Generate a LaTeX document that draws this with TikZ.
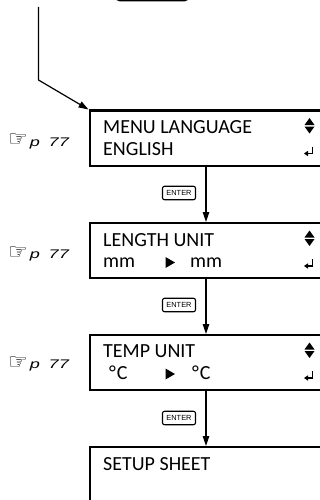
\documentclass[tikz,border=0pt]{standalone}
\usepackage{fontspec}
\usepackage{graphicx}
\setmainfont{Carlito}
\newfontfamily\reffont{Liberation Sans}
\newfontfamily\symfont{DejaVu Sans}
\usetikzlibrary{arrows.meta,calc}
\tikzset{
  lcd/.style={draw, line width=2.4pt, minimum width=260pt, minimum height=55pt, anchor=north west, inner sep=0pt},
  lcdtxt/.style={anchor=base west, inner sep=0pt, font=\fontsize{20}{20}\selectfont},
  conn/.style={line width=1.2pt, -{Triangle[length=10pt,width=6.5pt]}},
  keybox/.style={draw, line width=1.1pt, rounded corners=2pt, minimum width=33pt, minimum height=13.5pt, inner sep=0pt, font=\reffont\fontsize{7.4}{8}\selectfont},
  refnote/.style={anchor=base west, inner sep=0pt},
  symfill/.style={fill=black, draw=none}
}
\newcommand{\refmark}{\raisebox{-1pt}{\symfont\fontsize{22}{22}\selectfont ☞}\hspace{2pt}\scalebox{1.45}[1]{\reffont\itshape\fontsize{12.5}{13}\selectfont p\hspace{6pt}77}}
\begin{document}
\begin{tikzpicture}[x=1pt,y=-1pt]
\useasboundingbox (0,0) rectangle (320,500);
\clip (0,0) rectangle (320,500);
% top box (partially visible)
\node[draw, line width=2.4pt, rounded corners=4pt, minimum width=72pt, minimum height=24pt, anchor=south west, inner sep=0pt] (topbox) at (115,1.5) {};
% LCD boxes
\node[lcd] (b1) at (88.5,109.5) {};
\node[lcd] (b2) at (88.5,222) {};
\node[lcd] (b3) at (88.5,334) {};
\node[lcd] (b4) at (88.5,446) {};
\coordinate (col) at (206,0);
% connectors
\coordinate (s) at (38.5,7);
\coordinate (k) at (38.5,80);
\draw[conn] (s) -- (k) -- (b1.north west);
\draw[conn] (b1.south -| col) -- (b2.north -| col);
\draw[conn] (b2.south -| col) -- (b3.north -| col);
\draw[conn] (b3.south -| col) -- (b4.north -| col);
% ENTER keys
\node[keybox] (e1) at (179,193) {ENTER};
\node[keybox] (e2) at (179,305) {ENTER};
\node[keybox] (e3) at (179,418) {ENTER};
% texts
\node[lcdtxt] (t1a) at (103,133.5) {MENU LANGUAGE};
\node[lcdtxt] (t1b) at (103,155) {ENGLISH};
\node[lcdtxt] (t2a) at (103,246.5) {LENGTH UNIT};
\node[lcdtxt] (t2b) at (103,267.5) {mm};
\node[lcdtxt] (t2c) at (190,267.5) {mm};
\node[lcdtxt] (t3a) at (103,357.5) {TEMP UNIT};
\node[lcdtxt] (t3b) at (109,379.5) {°\kern1pt C};
\node[lcdtxt] (t3c) at (192,379.5) {°\kern1pt C};
\node[lcdtxt] (t4a) at (103,470) {SETUP SHEET};
% ref notes
\node[refnote] (r1) at (8,146) {\refmark};
\node[refnote] (r2) at (8,258.5) {\refmark};
\node[refnote] (r3) at (8,368) {\refmark};
% right-pointing triangles
\foreach \y [count=\i] in {262.5,374} {
  \fill[symfill] (165.5,\y-5.5) -- (175,\y) -- (165.5,\y+5.5) -- cycle;
}
% up/down and return symbols
\foreach \t in {109.5,222,334} {
  \fill[symfill] (304.5,\t+15.5) -- (309.5,\t+8.5) -- (314.5,\t+15.5) -- cycle;
  \fill[symfill] (304.5,\t+17) -- (309.5,\t+24) -- (314.5,\t+17) -- cycle;
  \draw[line width=1.2pt] (312.5,\t+37) -- (312.5,\t+44) -- (307.5,\t+44);
  \fill[symfill] (304,\t+44) -- (308,\t+41.3) -- (308,\t+46.7) -- cycle;
}
\end{tikzpicture}
\end{document}
